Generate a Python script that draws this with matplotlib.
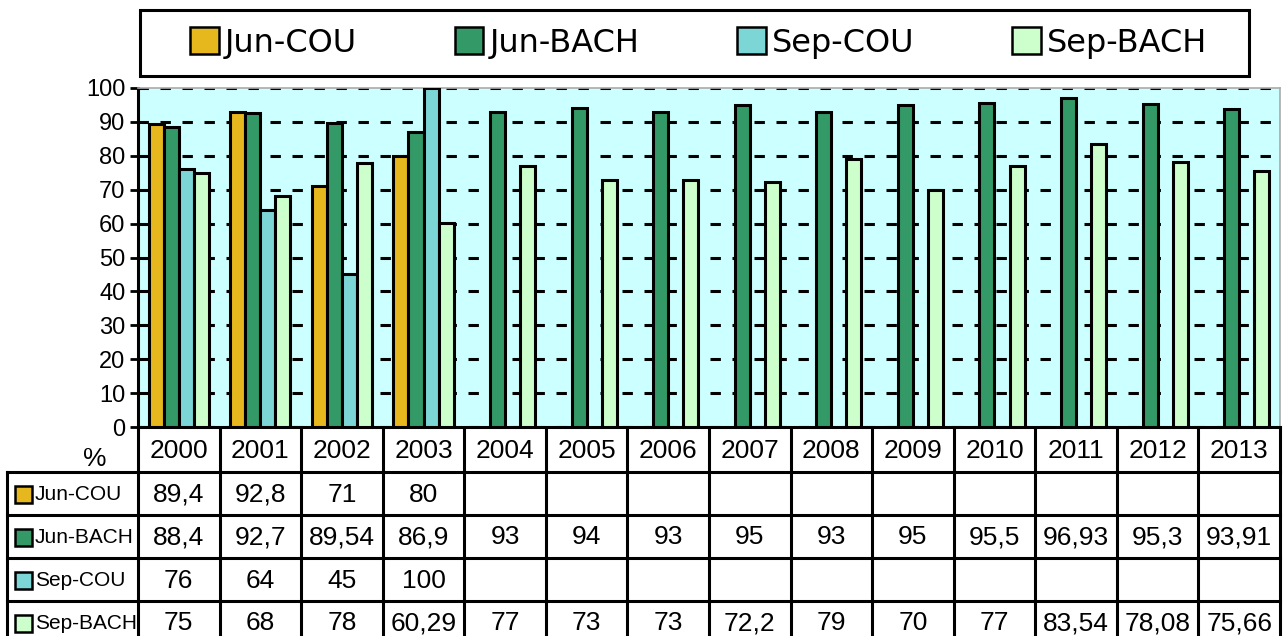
import numpy as np
import matplotlib
matplotlib.use("Agg")
import matplotlib.pyplot as plt
from matplotlib.patches import Rectangle, Patch

years = ["2000", "2001", "2002", "2003", "2004", "2005", "2006",
         "2007", "2008", "2009", "2010", "2011", "2012", "2013"]
series_names = ["Jun-COU", "Jun-BACH", "Sep-COU", "Sep-BACH"]
jun_cou = [89.4, 92.8, 71, 80, None, None, None, None, None, None, None, None, None, None]
jun_bach = [88.4, 92.7, 89.54, 86.9, 93, 94, 93, 95, 93, 95, 95.5, 96.93, 95.3, 93.91]
sep_cou = [76, 64, 45, 100, None, None, None, None, None, None, None, None, None, None]
sep_bach = [75, 68, 78, 60.29, 77, 73, 73, 72.2, 79, 70, 77, 83.54, 78.08, 75.66]
series = [jun_cou, jun_bach, sep_cou, sep_bach]
colors = ["#E6B81E", "#339966", "#7DD6D6", "#CCFFCC"]

W, H = 1284, 636
fig = plt.figure(figsize=(W / 100, H / 100), dpi=100)
fig.patch.set_facecolor("white")

TFONT = ["Liberation Sans", "DejaVu Sans"]

# plot area pixels
px0, px1, py_top, py_bot = 138, 1280, 88, 427
ax = fig.add_axes([px0 / W, 1 - py_bot / H, (px1 - px0) / W, (py_bot - py_top) / H])
ax.set_facecolor("#CCFFFF")
n = len(years)
x = np.arange(n)
bw = 0.184
offsets = [-1.5, -0.5, 0.5, 1.5]
for s, c, off in zip(series, colors, offsets):
    vals = np.array([np.nan if v is None else v for v in s], dtype=float)
    ax.bar(x + off * bw, vals, width=bw, color=c, edgecolor="black", linewidth=2.2, zorder=3)

ax.set_xlim(-0.5, n - 0.5)
ax.set_ylim(0, 100)
ax.set_yticks(np.arange(0, 101, 10))
ax.set_xticks([])
ax.yaxis.grid(True, color="black", linewidth=2.2, linestyle=(0, (3.4, 3.8)), zorder=1)
ax.set_axisbelow(True)
for sp in ["top", "right"]:
    ax.spines[sp].set_color("#AAAAAA")
    ax.spines[sp].set_linewidth(1.2)
for sp in ["left", "bottom"]:
    ax.spines[sp].set_color("black")
    ax.spines[sp].set_linewidth(2.2)
ax.tick_params(axis="y", direction="out", length=6, width=2, pad=3, labelsize=17)
for lab in ax.get_yticklabels():
    lab.set_family(TFONT)

# table
unit = (px1 - px0) / n
tx0 = 7
left_x = -0.5 - (px0 - tx0) / unit
tax = fig.add_axes([tx0 / W, 0, (px1 - tx0) / W, (H - py_bot) / H])
tax.set_xlim(left_x, n - 0.5)
tax.set_ylim(H, py_bot)
tax.axis("off")
lw = 2.2
row_lines = [472, 515, 558, 601]
row_bottom = 644
for i in range(n + 1):
    tax.plot([i - 0.5, i - 0.5], [py_bot, H], color="black", lw=lw, clip_on=False,
             solid_capstyle="butt")
tax.plot([left_x, left_x], [row_lines[0], H], color="black", lw=lw, clip_on=False)
for yl in row_lines:
    tax.plot([left_x, n - 0.5], [yl, yl], color="black", lw=lw, clip_on=False)

tfs = 19
for i, yr in enumerate(years):
    tax.text(i, (py_bot + row_lines[0]) / 2 + 2, yr, ha="center", va="center",
             fontsize=tfs, family=TFONT)
tax.text(-0.5 - (138 - 95) / unit, 459, "%", ha="center", va="center",
         fontsize=tfs, family=TFONT)

row_edges = row_lines + [row_bottom]
for r, (name, s, c) in enumerate(zip(series_names, series, colors)):
    y0, y1 = row_edges[r], row_edges[r + 1]
    yc = (y0 + y1) / 2
    sq = 17
    tax.add_patch(Rectangle((left_x + (15 - tx0) / unit, yc - sq / 2 + 1), sq / unit, sq,
                            facecolor=c, edgecolor="black", linewidth=1.8, clip_on=False))
    tax.text(left_x + (35 - tx0) / unit, yc + 1, name, ha="left", va="center",
             fontsize=15, family=TFONT)
    for i, v in enumerate(s):
        if v is None:
            continue
        txt = f"{v:g}".replace(".", ",")
        tax.text(i, yc + 1, txt, ha="center", va="center", fontsize=tfs, family=TFONT)

# legend
fig.add_artist(Rectangle((140 / W, 1 - 76 / H), (1249 - 140) / W, 66 / H,
                         transform=fig.transFigure, facecolor="white",
                         edgecolor="black", linewidth=2.2))
handles = [Patch(facecolor=c, edgecolor="black", linewidth=1.8) for c in colors]
fig.legend(handles, series_names, loc="center left", bbox_to_anchor=(190 / W, 1 - 43 / H),
           ncol=4, frameon=False, handlelength=0.9, handleheight=0.9,
           handletextpad=0.2, columnspacing=3.05, borderpad=0, borderaxespad=0,
           prop={"family": "DejaVu Sans", "size": 23})

fig.savefig("out.png", dpi=100)
